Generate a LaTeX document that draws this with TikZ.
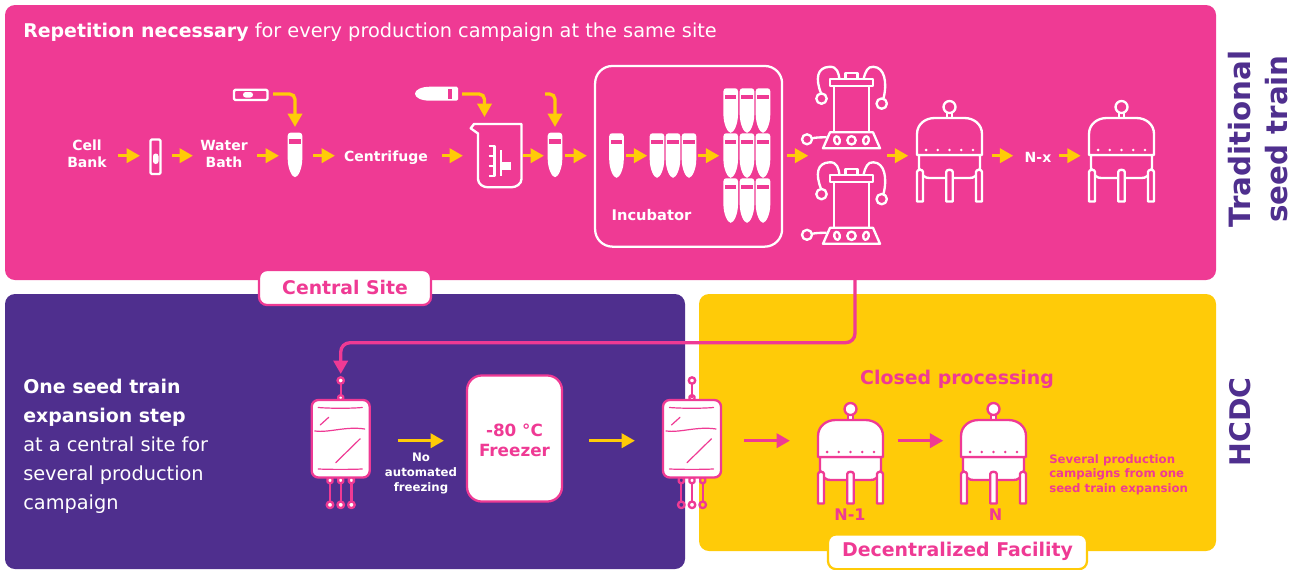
\documentclass[tikz,border=0pt]{standalone}
\usepackage{fontspec}
\setmainfont{DejaVu Sans}
\usetikzlibrary{arrows.meta}
\definecolor{hpink}{HTML}{EF3A94}
\definecolor{hpurple}{HTML}{4F2F8E}
\definecolor{hyellow}{HTML}{FFCB08}
\tikzset{
  panel/.style={rectangle,inner sep=0pt,rounded corners=7.5pt,draw=none},
  tag/.style={rectangle,inner sep=0pt,rounded corners=6pt,fill=white,line width=1.7pt,font=\bfseries\fontsize{14.1}{17}\selectfont,text=hpink},
  lab/.style={inner sep=0pt,align=center,text=white,font=\bfseries\fontsize{10.5}{12.75}\selectfont},
  minilab/.style={inner sep=0pt,align=center,font=\bfseries\fontsize{8.8}{11}\selectfont},
  bigtxt/.style={inner sep=0pt,font=\fontsize{14.5}{21.75}\selectfont},
  sidetxt/.style={inner sep=0pt,align=center,text=hpurple,rotate=90,font=\bfseries\fontsize{22}{27.75}\selectfont},
  flowarrow/.style={line width=2.5pt,draw=hyellow,-{Triangle[length=10pt,width=10.5pt]}},
  pinkarrow/.style={line width=2.5pt,draw=hpink,-{Triangle[length=10pt,width=10.5pt]}},
  icon/.style={line width=1.75pt,line join=round},
  thin line/.style={line width=0.9pt,draw=hpink,line cap=round},
}
% straight arrow between two named ends
\newcommand\flow[5][flowarrow]{%
  \coordinate (#2s) at (#3,#5);\coordinate (#2e) at (#4,#5);
  \draw[#1] (#2s) -- (#2e);}
% elbow arrow
\newcommand\elbow[4]{%
  \coordinate (#1s) at (#2,94);\coordinate (#1e) at (#3,#4);
  \draw[flowarrow,rounded corners=4pt] (#1s) -| (#1e);}
\newcommand\tube[2]{%
  \begin{scope}[shift={(#1,#2)}]
  \fill[white] (-7.3,3) .. controls (-7.3,1) and (-6,0) .. (-4.5,0) -- (4.5,0) .. controls (6,0) and (7.3,1) .. (7.3,3) -- (7.3,26) .. controls (7.3,36) and (3,44.5) .. (0,44.5) .. controls (-3,44.5) and (-7.3,36) .. (-7.3,26) -- cycle;
  \fill[hpink] (-5.6,6.7) rectangle (5.6,10.8);
  \end{scope}}
% reactor: x, top y, fill, stroke
\newcommand\reactor[4]{%
  \begin{scope}[shift={(#1,#2)},icon,draw=#4,fill=#3]
  \filldraw (-30.5,37) -- (-30.5,50) .. controls (-27,58) and (-25,60) .. (-20,60) -- (20,60) .. controls (25,60) and (27,58) .. (30.5,50) -- (30.5,37) -- cycle;
  \filldraw (-32.5,83.5) -- (-32.5,54) .. controls (-32.5,51) and (-26.5,51) .. (-26.5,54) -- (-26.5,83.5) -- cycle;
  \filldraw (-3.3,83.5) -- (-3.3,54) .. controls (-3.3,51) and (3.3,51) .. (3.3,54) -- (3.3,83.5) -- cycle;
  \filldraw (26.5,83.5) -- (26.5,54) .. controls (26.5,51) and (32.5,51) .. (32.5,54) -- (32.5,83.5) -- cycle;
  \filldraw (-2.2,-5) rectangle (2.2,0);
  \filldraw (-32.5,37) -- (-32.5,16) .. controls (-32.5,6) and (-24,0) .. (-15,0) -- (15,0) .. controls (24,0) and (32.5,6) .. (32.5,16) -- (32.5,37) -- cycle;
  \filldraw (0,-11) circle[radius=6];
  \foreach \dx in {-23.4,-11.7,0,11.7,23.4}{\fill[#4] (\dx,32) circle[radius=1.4];}
  \end{scope}}
\newcommand\bioreactor[2]{%
  \begin{scope}[shift={(#1,#2)},icon,draw=white]
  \draw (-30.5,14) .. controls (-36,0) and (-35,-12) .. (-22,-12.5) .. controls (-14,-13) and (-13,-6) .. (-12,0);
  \draw (32,19) .. controls (36,3) and (33,-12) .. (22,-12.5) .. controls (16,-13) and (14,-8) .. (12,0);
  \draw (-30,19.3) circle[radius=5.2];
  \draw (30.2,24.3) circle[radius=5.2];
  \draw (-44.5,60) circle[radius=5];
  \draw (-39.8,59) .. controls (-35,58) and (-30,58) .. (-25,58);
  \draw (-6,0) rectangle (6,-6);
  \draw (-21.5,0) rectangle (21.5,7);
  \draw (-17.5,7) rectangle (17.5,53);
  \draw (-21.5,53) -- (21.5,53) -- (28.5,69) -- (-28.5,69) -- cycle;
  \draw (-14.5,61) ellipse[x radius=2.8,y radius=4.1,rotate=12];
  \draw (0,61) circle[radius=4.2];
  \draw (14.5,61) ellipse[x radius=2.8,y radius=4.1,rotate=-12];
  \end{scope}}
% blood-bag style container: centre x, fill of the ports
\newcommand\bag[2]{%
  \begin{scope}[shift={(#1,0)},icon,draw=hpink]
  \draw (0,384) -- (0,398);
  \filldraw[fill=#2] (0,380.5) circle[radius=3.2];
  \filldraw[fill=#2,rounded corners=1pt] (-2.5,395.5) rectangle (2.5,400);
  \foreach \dx in {-10.7,0,10.7}{
    \draw (\dx,483) -- (\dx,501.5);
    \filldraw[fill=#2,rounded corners=1pt] (\dx-2.5,477.5) rectangle (\dx+2.5,483);
    \filldraw[fill=#2] (\dx,504.8) circle[radius=3.3];}
  \filldraw[fill=white,rounded corners=5pt] (-29,400) rectangle (29,477.5);
  \draw[thin line] (-22.5,407.5) .. controls (-10,408.5) and (10,408.5) .. (21.5,407.5);
  \draw[thin line] (-20.5,425) -- (-12,417.3);
  \draw[thin line] (-26,431) .. controls (-12,433) and (5,426) .. (24,429);
  \draw[thin line] (-5,462.7) -- (19.5,438.7);
  \draw[thin line] (-22.5,469) .. controls (-10,469.5) and (10,469.5) .. (21.5,469);
  \end{scope}}
\begin{document}
\begin{tikzpicture}[x=0.75pt,y=-0.75pt]
\useasboundingbox (0,0) rectangle (1295,569);
\fill[white] (0,0) rectangle (1295,569);
% panels
\node[panel,fill=hpink,minimum width=908.25pt,minimum height=206.25pt] (pinkpanel) at (610.5,142.5) {};
\node[panel,fill=hpurple,minimum width=510pt,minimum height=206.25pt] (purplepanel) at (345,431.5) {};
\node[panel,fill=hyellow,minimum width=387.75pt,minimum height=192.75pt] (yellowpanel) at (957.5,422.5) {};
% connector central -> bag
\coordinate (cs) at (855,280);
\coordinate (cm) at (600,342.7);
\coordinate (ce) at (340.7,374);
\draw[pinkarrow,rounded corners=7pt] (cs) |- (cm) -| (ce);
% tags
\node[tag,draw=hpink,minimum width=129pt,minimum height=26.25pt] (central) at (345,287.5) {Central Site};
\node[tag,draw=hyellow,minimum width=194.25pt,minimum height=26pt,font=\bfseries\fontsize{14.2}{17}\selectfont] (decentral) at (957.5,551.8) {Decentralized Facility};
% header
\node[bigtxt,text=white,anchor=west] (title) at (23,32.5) {\textbf{\fontsize{14.2}{21.75}\selectfont Repetition necessary} for every production campaign at the same site};
\node[bigtxt,text=white,anchor=west,align=left] (onestep) at (23,446) {\textbf{\fontsize{14.2}{21.75}\selectfont One seed train}\\\textbf{\fontsize{14.2}{21.75}\selectfont expansion step}\\at a central site for\\several production\\campaign};
\node[sidetxt] (trad) at (1258.5,139) {Traditional\\seed train};
\node[sidetxt,font=\bfseries\fontsize{21.3}{26}\selectfont] (hcdc) at (1240,422) {HCDC};
% top row labels
\node[lab] (cell) at (87,153.5) {Cell\\Bank};
\node[lab] (water) at (224,153.5) {Water\\Bath};
\node[lab] (centrifuge) at (386,157.5) {Centrifuge};
\node[lab] (nx) at (1038,157) {N-x};
\node[lab,font=\bfseries\fontsize{11}{13}\selectfont] (incub) at (651.5,215) {Incubator};
% vial
\draw[icon,draw=white,rounded corners=1pt] (150.5,139.5) rectangle (160.5,174);
\fill[white,rounded corners=2pt] (153,153.5) rectangle (158.5,164);
% horizontal vial
\draw[icon,draw=white,rounded corners=1pt] (234,89.8) rectangle (267.5,100);
\fill[white,rounded corners=2pt] (243,92) rectangle (253,97.5);
% horizontal tube
\fill[white] (458,88) .. controls (458,87) and (457.5,86.7) .. (456.5,86.7) -- (430,86.7) .. controls (421,86.7) and (415,90) .. (415,93.7) .. controls (415,97.5) and (421,100.7) .. (430,100.7) -- (456.5,100.7) .. controls (457.5,100.7) and (458,100.4) .. (458,99.4) -- cycle;
\fill[hpink] (447.5,88.5) rectangle (452,99);
% tubes
\tube{295}{132.7}
\tube{555}{132.7}
\tube{616.5}{133.3}
\foreach \tx in {657,673,689}{\tube{\tx}{133.3}}
\foreach \tx in {730.7,747,763}{\foreach \ty in {88.3,133.3,178.3}{\tube{\tx}{\ty}}}
% beaker
\draw[icon,draw=white] (470.7,128.3) -- (474,124) -- (521.5,124) -- (521.5,179) .. controls (521.5,184) and (516,187.3) .. (511,187.3) -- (488,187.3) .. controls (483,187.3) and (478,184) .. (478,179) -- (478,133.5) -- cycle;
\draw[icon,draw=white] (488.6,146) -- (494.4,146) -- (494.4,176) -- (488.6,176);
\draw[icon,draw=white] (488.6,156) -- (494.4,156) (488.6,166) -- (494.4,166);
\draw[icon,draw=white] (501.3,150) -- (501.3,176);
\fill[white] (501.3,162.3) rectangle (511,170);
% incubator box
\node[draw=white,line width=1.7pt,rounded corners=13pt,minimum width=140.25pt,minimum height=135.5pt,inner sep=0pt] (incubbox) at (688.6,156.3) {};
% equipment
\bioreactor{851.5}{79.3}
\bioreactor{851.5}{174.8}
\reactor{949.5}{118}{hpink}{white}
\reactor{1121.5}{118}{hpink}{white}
% top arrows
\flow{a}{118}{140}{155.7}
\flow{b}{172}{193}{155.7}
\flow{c}{257}{279}{155.7}
\flow{d}{313}{335}{155.7}
\flow{e}{442}{463}{155.7}
\flow{f}{523}{544}{155.7}
\flow{g}{565}{587}{155.7}
\flow{h}{626}{647.3}{155.7}
\flow{i}{698.3}{719.3}{155.7}
\flow{j}{787.3}{808.3}{155.7}
\flow{k}{887.3}{908.3}{155.7}
\flow{l}{991.7}{1013.3}{155.7}
\flow{m}{1059.3}{1080.7}{155.7}
\elbow{p}{273}{295}{127}
\elbow{q}{462}{484.5}{117}
\elbow{r}{545}{555}{127}
% lower row
\bag{340.7}{white}
\bag{692}{none}
\node[draw=hpink,fill=white,line width=1.7pt,rounded corners=11pt,minimum width=71.25pt,minimum height=94.5pt,inner sep=0pt] (freezer) at (514.5,438.5) {};
\node[inner sep=0pt,align=center,text=hpink,font=\bfseries\fontsize{12.6}{15}\selectfont] (freezerlabel) at (514.5,440.5) {-80 °C\\Freezer};
\node[minilab,text=white] (noauto) at (421,473.5) {No\\automated\\freezing};
\reactor{850.5}{420}{white}{hpink}
\reactor{993.5}{420}{white}{hpink}
\node[inner sep=0pt,text=hpink,font=\bfseries\fontsize{14.2}{17}\selectfont] (closed) at (957,379) {Closed processing};
\node[inner sep=0pt,text=hpink,font=\bfseries\fontsize{12}{14}\selectfont] (n1) at (850,515) {N-1};
\node[inner sep=0pt,text=hpink,font=\bfseries\fontsize{12}{14}\selectfont] (n) at (995.5,515) {N};
\node[minilab,text=hpink,align=left,anchor=west] (several) at (1049,474.6) {Several production\\campaigns from one\\seed train expansion};
\flow{s}{397.7}{444}{440.7}
\flow{t}{589}{635}{440.7}
\flow[pinkarrow]{u}{744.3}{790}{440.7}
\flow[pinkarrow]{v}{897.7}{943.3}{440.7}
\end{tikzpicture}
\end{document}
